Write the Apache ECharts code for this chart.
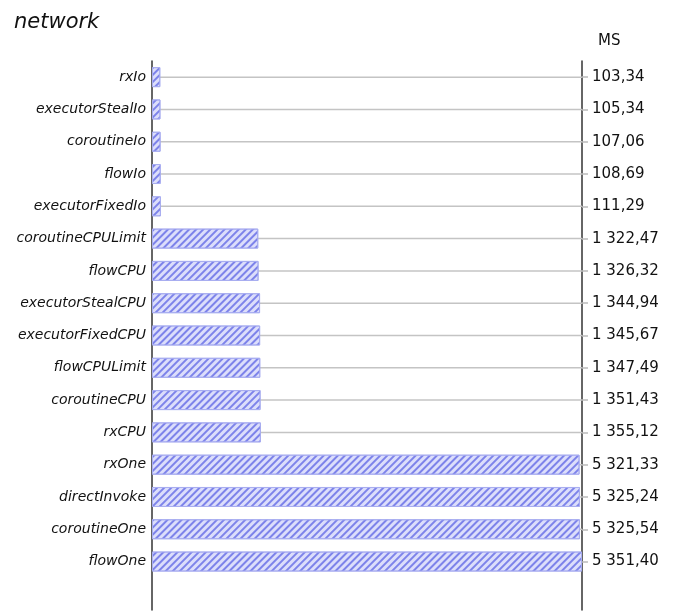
<!DOCTYPE html>
<html>
<head>
<meta charset="utf-8">
<script src="https://cdn.jsdelivr.net/npm/echarts@6/dist/echarts.min.js"></script>
<style>html,body{margin:0;padding:0;background:#fff;}#c{width:680px;height:611px;}</style>
</head>
<body>
<div id="c"></div>
<script>
var categories = ['rxIo','executorStealIo','coroutineIo','flowIo','executorFixedIo','coroutineCPULimit','flowCPU','executorStealCPU','executorFixedCPU','flowCPULimit','coroutineCPU','rxCPU','rxOne','directInvoke','coroutineOne','flowOne'];
var values = [103.34,105.34,107.06,108.69,111.29,1322.47,1326.32,1344.94,1345.67,1347.49,1351.43,1355.12,5321.33,5325.24,5325.54,5351.40];
var titleText = 'network';
var unitName = 'MS';

function fmt(v){
  var s = v.toFixed(2).split('.');
  var ip = s[0].replace(/\B(?=(\d{3})+(?!\d))/g, ' ');
  return ip + ',' + s[1];
}
var maxV = Math.max.apply(null, values);
var font = 'DejaVu Sans';

var chart = echarts.init(document.getElementById('c'), null, {renderer:'canvas'});
chart.setOption({
  animation: false,
  backgroundColor: '#fff',
  title: {text: titleText, left: 9, top: 7, textStyle: {fontFamily: font, fontStyle: 'italic', fontWeight: 'normal', fontSize: 21, color: '#111'}},
  grid: {left: 152, right: 98, top: 61, bottom: 1, containLabel: false},
  xAxis: {type: 'value', min: 0, max: maxV, show: false},
  yAxis: [
    {type: 'category', data: categories, inverse: true, position: 'left', max: categories.length,
     axisLine: {show: true, lineStyle: {color: '#333', width: 1.5}},
     axisTick: {show: false},
     axisLabel: {fontFamily: font, fontStyle: 'italic', fontSize: 14, color: '#111', margin: 6,
       formatter: function(v){ return categories.indexOf(v) >= 0 ? v : ''; }},
     splitLine: {show: false}},
    {type: 'category', data: categories, inverse: true, position: 'right', max: categories.length,
     name: unitName, nameLocation: 'start', nameGap: 12,
     nameTextStyle: {fontFamily: font, fontSize: 15, color: '#111', align: 'left', padding: [0,0,0,16]},
     axisLine: {show: true, lineStyle: {color: '#333', width: 1.5}},
     axisTick: {show: true, alignWithLabel: true, length: 6, lineStyle: {color: '#bbb', width: 1.5},
       interval: function(i){ return i < categories.length; }},
     axisLabel: {fontFamily: font, fontSize: 15, color: '#111', margin: 10,
       formatter: function(v, i){ return i < values.length ? fmt(values[i]) : ''; }}}
  ],
  series: [
    {type: 'bar', yAxisIndex: 1, data: values.map(function(){ return maxV; }), barWidth: 1.5, z: 1, silent: true,
     itemStyle: {color: '#c4c4c4'}},
    {type: 'bar', yAxisIndex: 0, data: values, barWidth: 20, z: 2,
     itemStyle: {color: '#dcdefb', borderColor: '#a9aef0', borderWidth: 1,
       decal: {symbol: 'rect', symbolSize: 1, dashArrayX: [1, 0], dashArrayY: [1.2, 2.3], rotation: -Math.PI / 4, color: '#7d83ea'}}}
  ]
});
</script>
</body>
</html>
